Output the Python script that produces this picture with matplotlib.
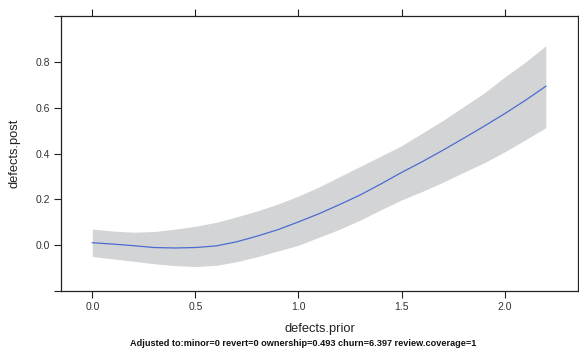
import matplotlib
matplotlib.use("Agg")
import matplotlib.pyplot as plt

plt.rcParams['font.family'] = ['Liberation Sans', 'DejaVu Sans']

x = [0.0, 0.1, 0.2, 0.3, 0.4, 0.5, 0.6, 0.7, 0.8, 0.9, 1.0, 1.1,
     1.2, 1.3, 1.4, 1.5, 1.6, 1.7, 1.8, 1.9, 2.0, 2.1, 2.2]
fit = [0.011, 0.005, -0.002, -0.010, -0.012, -0.010, -0.003, 0.015, 0.040,
       0.068, 0.102, 0.138, 0.178, 0.220, 0.268, 0.318, 0.365, 0.415,
       0.467, 0.520, 0.575, 0.633, 0.695]
upper = [0.071, 0.062, 0.057, 0.060, 0.070, 0.083, 0.100, 0.124, 0.150,
         0.180, 0.215, 0.255, 0.300, 0.345, 0.390, 0.435, 0.490, 0.545,
         0.605, 0.665, 0.735, 0.800, 0.872]
lower = [-0.049, -0.060, -0.070, -0.081, -0.089, -0.093, -0.088, -0.072,
         -0.050, -0.025, 0.000, 0.035, 0.070, 0.110, 0.155, 0.198, 0.235,
         0.275, 0.318, 0.360, 0.408, 0.460, 0.514]

xticks = [0.0, 0.5, 1.0, 1.5, 2.0]
xticklabels = ["0.0", "0.5", "1.0", "1.5", "2.0"]
yticks = [-0.2, 0.0, 0.2, 0.4, 0.6, 0.8, 1.0]
yticklabels = ["", "0.0", "0.2", "0.4", "0.6", "0.8", ""]

fig = plt.figure(figsize=(5.79, 3.49), dpi=100)
ax = fig.add_axes([61/579, 58/349, 517/579, 275/349])

ax.fill_between(x, lower, upper, color="#d3d4d6", linewidth=0)
ax.plot(x, fit, color="#4a6cd0", linewidth=0.9)

ax.set_xlim(-0.152, 2.356)
ax.set_ylim(-0.2, 1.002)

ax.set_xticks(xticks)
ax.set_xticklabels(xticklabels)
ax.set_yticks(yticks)
ax.set_yticklabels(yticklabels)
ax.tick_params(axis='both', which='both', direction='out', length=5,
               width=0.8, color="#222222", labelsize=7.5, labelcolor="#333333",
               top=True, right=True, labeltop=False, labelright=False, pad=3)
for s in ax.spines.values():
    s.set_linewidth(0.9)
    s.set_color("#222222")

ax.set_xlabel("defects.prior", fontsize=9.3, color="#222222", labelpad=8)
ax.set_ylabel("defects.post", fontsize=9.3, color="#222222", labelpad=11)
fig.text(303/579, 1 - 343/349,
         "Adjusted to:minor=0 revert=0 ownership=0.493 churn=6.397 review.coverage=1",
         ha='center', va='center', fontsize=6.6, fontweight='bold', color="#111111")

fig.savefig("out.png", dpi=100)
